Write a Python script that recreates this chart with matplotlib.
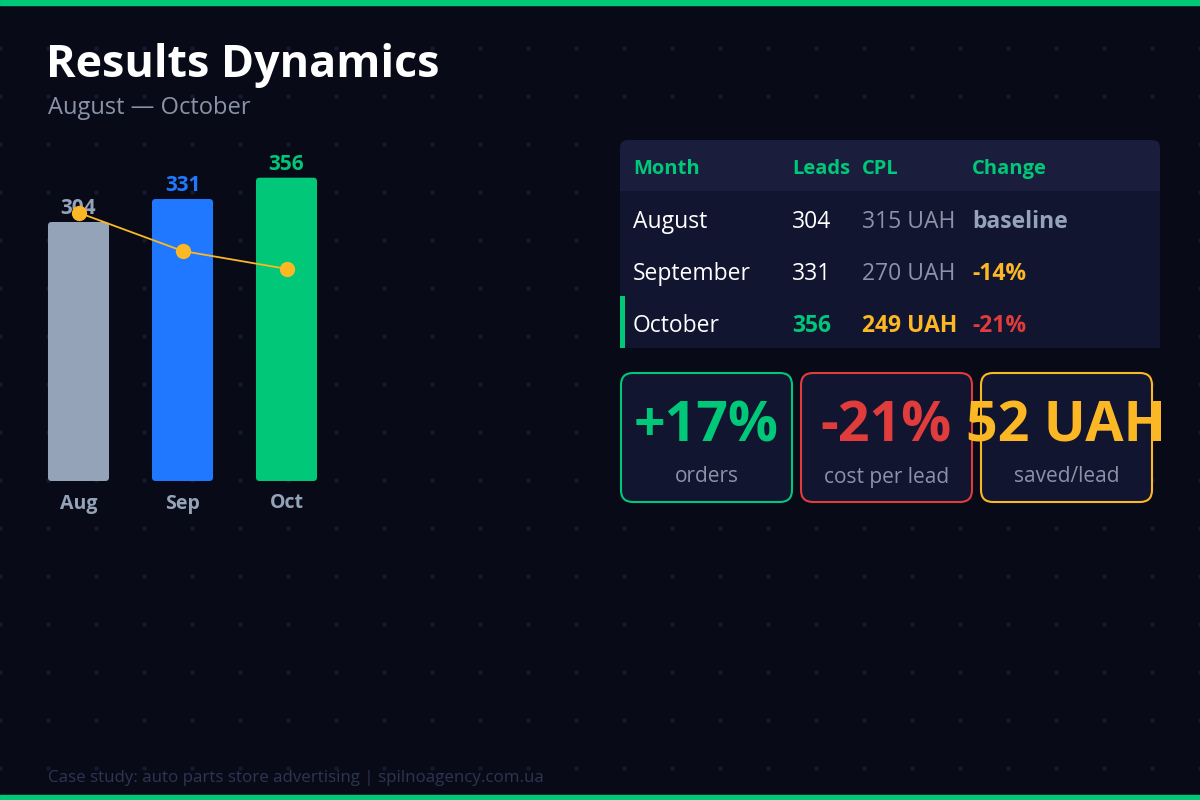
import numpy as np
import matplotlib.pyplot as plt
from matplotlib.patches import FancyBboxPatch, Rectangle

# data
months = ["Aug", "Sep", "Oct"]
leads = [304, 331, 356]
cpl = [315, 270, 249]
bar_colors = ["#94a3b8", "#1f78ff", "#00c878"]

table_header = ["Month", "Leads", "CPL", "Change"]
table_months = ["August", "September", "October"]
table_leads = ["304", "331", "356"]
table_cpl = ["315 UAH", "270 UAH", "249 UAH"]
table_change = ["baseline", "-14%", "-21%"]

card_values = ["+17%", "-21%", "52 UAH"]
card_labels = ["orders", "cost per lead", "saved/lead"]

BG = "#080b17"
GREEN = "#00c878"
RED = "#e03c3c"
ORANGE = "#fbb824"
GREY = "#8a93a8"

plt.rcParams['font.family'] = ['Open Sans', 'DejaVu Sans']

fig = plt.figure(figsize=(12, 8), dpi=100, facecolor=BG)

# background canvas in pixel coords
bg = fig.add_axes([0, 0, 1, 1])
bg.set_xlim(0, 1200)
bg.set_ylim(800, 0)
bg.axis("off")
bg.set_facecolor(BG)

gx, gy = np.meshgrid(np.arange(0, 1201, 48), np.arange(0, 801, 48))
bg.scatter(gx.ravel(), gy.ravel(), s=10, color="#141a33", zorder=0, linewidths=0)

bg.add_patch(Rectangle((0, 0), 1200, 5, color=GREEN, zorder=1))
bg.add_patch(Rectangle((0, 795), 1200, 5, color=GREEN, zorder=1))

bg.text(46, 65, "Results Dynamics", color="white", fontsize=32.3, fontweight="bold", va="center")
bg.text(48, 108, "August \u2014 October", color=GREY, fontsize=17, va="center")
bg.text(48, 778, "Case study: auto parts store advertising | spilnoagency.com.ua",
        color="#2e3452", fontsize=12.2, va="center")

# table
bg.add_patch(FancyBboxPatch((620, 140), 540, 51, boxstyle="round,pad=0,rounding_size=8",
                            fc="#1a1e3c", ec="none", zorder=2))
bg.add_patch(Rectangle((620, 180), 540, 11, fc="#1a1e3c", ec="none", zorder=2))
bg.add_patch(Rectangle((620, 191), 540, 157, fc="#111530", ec="none", zorder=2))
bg.add_patch(Rectangle((620, 296), 5, 52, fc=GREEN, ec="none", zorder=3))
col_x = [633, 792, 862, 972]
for x, h in zip(col_x, table_header):
    bg.text(x, 169, h, color=GREEN, fontsize=14.5, fontweight="bold", va="center", zorder=4)

row_y = [222, 274, 326]
change_colors = ["#94a3b8", ORANGE, RED]
for i, y in enumerate(row_y):
    last = i == 2
    bg.text(633, y, table_months[i], color="white", fontsize=16.5, va="center", zorder=4)
    bg.text(792, y, table_leads[i], color=GREEN if last else "white", fontsize=16.5,
            fontweight="bold" if last else "normal", va="center", zorder=4)
    bg.text(862, y, table_cpl[i], color=ORANGE if last else GREY, fontsize=16.5,
            fontweight="bold" if last else "normal", va="center", zorder=4)
    bg.text(972, y, table_change[i], color=change_colors[i], fontsize=16.5,
            fontweight="bold", va="center", zorder=4)

# cards
card_x = [621, 801, 981]
card_colors = [GREEN, RED, ORANGE]
for x, v, lab, c in zip(card_x, card_values, card_labels, card_colors):
    bg.add_patch(FancyBboxPatch((x, 373), 171, 129, boxstyle="round,pad=0,rounding_size=12",
                                fc="#111530", ec=c, lw=1.5, zorder=2))
    bg.text(x + 85.5, 427, v, color=c, fontsize=40, fontweight="bold",
            ha="center", va="center", zorder=5)
    bg.text(x + 85.5, 477, lab, color=GREY, fontsize=15, ha="center", va="center", zorder=5)

# bar chart
ax = fig.add_axes([26.5 / 1200, (800 - 481) / 800, 312 / 1200, 340.8 / 800])
ax.set_facecolor("none")
x = np.arange(len(months))
bars = ax.bar(x, leads, width=0.587, color=bar_colors, zorder=2)
# swap plain bars for slightly rounded ones of the same geometry
for b, c in zip(bars, bar_colors):
    b.set_visible(False)
    ax.add_patch(FancyBboxPatch((b.get_x(), b.get_y()), b.get_width(), b.get_height(),
                                boxstyle="round,pad=0,rounding_size=0.035",
                                mutation_aspect=122, fc=c, ec="none", zorder=2))
for xi, v, c in zip(x, leads, bar_colors):
    ax.annotate(str(v), (xi, v), xytext=(0, 2), textcoords="offset points",
                ha="center", va="bottom", color=c, fontsize=15, fontweight="bold", zorder=3)
ax.plot(x, cpl, color=ORANGE, lw=1.3, marker="o", markersize=10, zorder=4)
ax.set_xlim(-0.5, 2.5)
ax.set_ylim(0, 400)
ax.set_xticks(x)
ax.set_xticklabels(months, color="#94a3b8", fontsize=14, fontweight="bold")
ax.tick_params(axis="x", length=0, pad=9)
ax.set_yticks([])
for s in ax.spines.values():
    s.set_visible(False)

fig.savefig("out.png", dpi=100, facecolor=BG)
